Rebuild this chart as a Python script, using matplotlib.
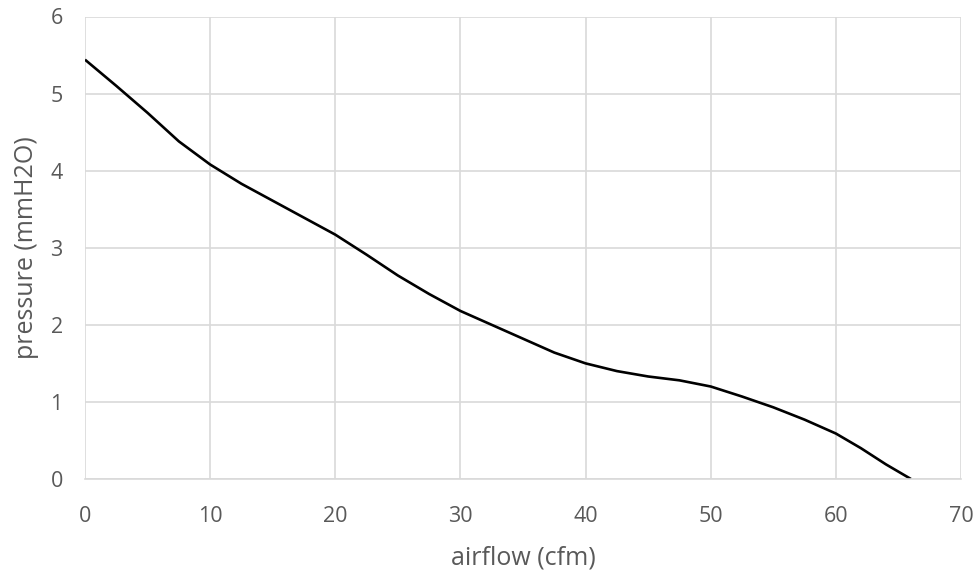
import matplotlib
matplotlib.use("Agg")
import matplotlib.pyplot as plt

airflow = [0, 2.5, 5, 7.5, 10, 12.5, 15, 17.5, 20, 22.5, 25, 27.5, 30, 32.5,
           35, 37.5, 40, 42.5, 45, 47.5, 50, 52.5, 55, 57.5, 60, 62, 64, 66]
pressure = [5.44, 5.10, 4.75, 4.38, 4.08, 3.83, 3.61, 3.39, 3.17, 2.91, 2.64, 2.40, 2.18, 2.00,
            1.82, 1.64, 1.50, 1.40, 1.33, 1.28, 1.20, 1.07, 0.93, 0.77, 0.59, 0.40, 0.19, 0.0]
x_ticks = [0, 10, 20, 30, 40, 50, 60, 70]
y_ticks = [0, 1, 2, 3, 4, 5, 6]

plt.rcParams['font.family'] = ['Open Sans', 'DejaVu Sans']

fig = plt.figure(figsize=(9.76, 5.71), dpi=100)
ax = fig.add_axes([85/976, 1-479/571, (961-85)/976, (479-16.5)/571])

ax.plot(airflow, pressure, color='black', lw=1.9, solid_joinstyle='round', solid_capstyle='butt')
ax.set_xlim(0, 70)
ax.set_ylim(0, 6)
ax.set_xticks(x_ticks)
ax.set_yticks(y_ticks)
ax.grid(True, color='#d9d9d9', lw=1.2)
ax.set_axisbelow(True)
for s in ['top', 'right', 'left']:
    ax.spines[s].set_visible(False)
ax.spines['bottom'].set_color('#d9d9d9')
ax.spines['bottom'].set_linewidth(1.2)
ax.tick_params(axis='both', length=0, labelsize=15.5, colors='#595959')
ax.tick_params(axis='x', pad=19.5)
ax.tick_params(axis='y', pad=16)
ax.set_xlabel('airflow (cfm)', fontsize=18, color='#595959', labelpad=13)
ax.set_ylabel('pressure (mmH2O)', fontsize=18, color='#595959', labelpad=8)

fig.savefig('out.png', dpi=100)
